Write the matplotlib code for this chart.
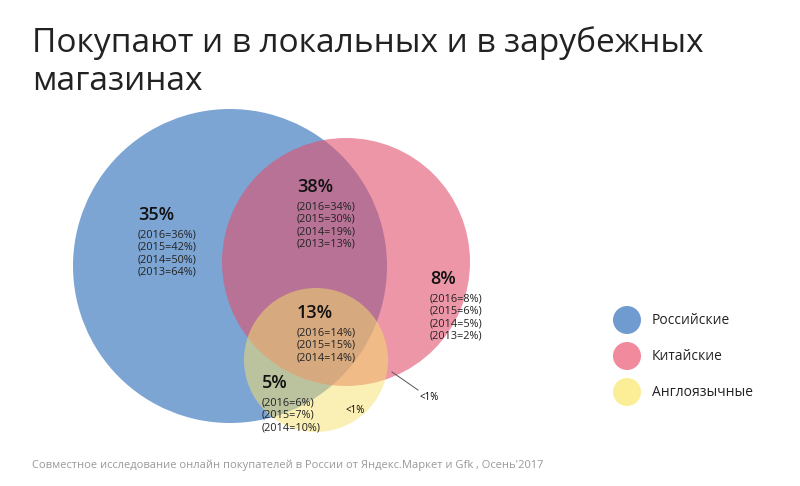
import matplotlib
matplotlib.use("Agg")
import matplotlib.pyplot as plt
from matplotlib.patches import Circle

title = "Покупают и в локальных и в зарубежных\nмагазинах"
categories = ["Российские", "Китайские", "Англоязычные"]
colors = ["#6f9bd0", "#f08a9c", "#fbee96"]
main_vals = ["35%", "38%", "8%", "13%", "5%"]
sub_vals = [
    "(2016=36%)\n(2015=42%)\n(2014=50%)\n(2013=64%)",
    "(2016=34%)\n(2015=30%)\n(2014=19%)\n(2013=13%)",
    "(2016=8%)\n(2015=6%)\n(2014=5%)\n(2013=2%)",
    "(2016=14%)\n(2015=15%)\n(2014=14%)",
    "(2016=6%)\n(2015=7%)\n(2014=10%)",
]
footer = "Совместное исследование онлайн покупателей в России от Яндекс.Маркет и Gfk , Осень'2017"

fig = plt.figure(figsize=(8, 4.86), dpi=100)
ax = fig.add_axes([0, 0, 1, 1])
ax.set_xlim(0, 800); ax.set_ylim(486, 0); ax.axis("off")
fn = "Open Sans"

ax.add_patch(Circle((230, 266), 157, color=colors[0], alpha=0.9, lw=0))
ax.add_patch(Circle((346, 262), 124, color="#e0506e", alpha=0.6, lw=0))
ax.add_patch(Circle((316, 360), 72, color="#f7e06a", alpha=0.5, lw=0))

ax.text(32, 62, title, fontsize=24, family=fn, va="center", color="#222222", linespacing=1.2)

pos = [(138, 215), (297, 187), (430, 279), (297, 313), (262, 383)]
for (x, y), m, s in zip(pos, main_vals, sub_vals):
    ax.text(x, y, m, fontsize=13, family=fn, va="center", color="#111111", weight="semibold")
    ax.text(x, y + 14, s, fontsize=7.8, family=fn, va="top", color="#222222", linespacing=1.2)

ax.text(345, 410, "<1%", fontsize=7, family=fn, va="center")
ax.text(420, 397, "<1%", fontsize=7, family=fn, va="center")
ax.plot([392, 418], [372, 390], color="#555555", lw=0.7)

for i, (c, name) in enumerate(zip(colors, categories)):
    y = 320 + 36 * i
    ax.add_patch(Circle((627, y), 14, color=c, lw=0))
    ax.text(652, y, name, fontsize=10, family=fn, va="center", color="#222222")

ax.text(32, 465, footer, fontsize=8, family=fn, va="center", color="#999999")
fig.savefig("out.png", dpi=100)
